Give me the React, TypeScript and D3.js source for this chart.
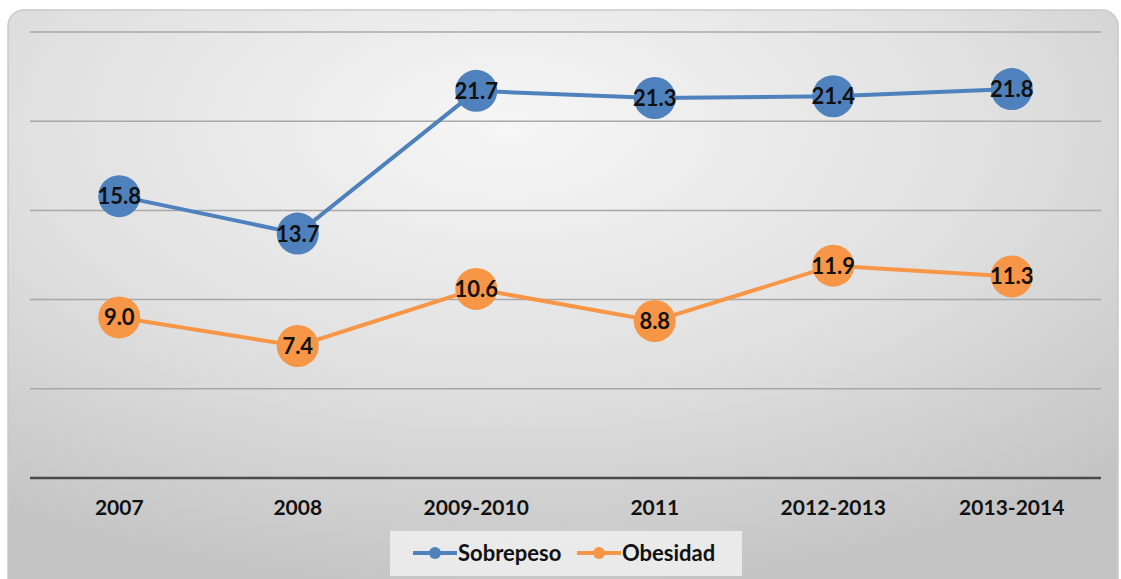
import React, { useRef, useEffect } from 'react';
import { select, scalePoint, scaleLinear, line } from 'd3';

const categories = ['2007', '2008', '2009-2010', '2011', '2012-2013', '2013-2014'];
const sobrepeso = [15.8, 13.7, 21.7, 21.3, 21.4, 21.8];
const obesidad = [9.0, 7.4, 10.6, 8.8, 11.9, 11.3];
const yTicks = [0, 5, 10, 15, 20, 25];

const series = [
    { name: 'Sobrepeso', values: sobrepeso, color: '#4f81bd' },
    { name: 'Obesidad', values: obesidad, color: '#f79646' },
];

const App: React.FC = () => {
    const chartRef = useRef<SVGSVGElement | null>(null);

    useEffect(() => {
        if (!chartRef.current) return;
        document.body.style.margin = '0';

        const svg = select(chartRef.current);
        svg.selectAll('*').remove();

        const width = 1121;
        const height = 579;
        const font = 'Lato, "Open Sans", sans-serif';

        // Background panel with soft radial gradient
        const defs = svg.append('defs');
        const grad = defs.append('radialGradient')
            .attr('id', 'bg')
            .attr('cx', '45%').attr('cy', '20%').attr('r', '80%');
        grad.append('stop').attr('offset', '0%').attr('stop-color', '#f6f6f6');
        grad.append('stop').attr('offset', '55%').attr('stop-color', '#e0e0e0');
        grad.append('stop').attr('offset', '100%').attr('stop-color', '#c4c4c4');

        svg.append('rect').attr('width', width).attr('height', height).attr('fill', '#ffffff');
        svg.append('rect')
            .attr('x', 8).attr('y', 10)
            .attr('width', 1110).attr('height', 585)
            .attr('rx', 16)
            .attr('fill', 'url(#bg)')
            .attr('stroke', '#c9c9c9')
            .attr('stroke-width', 1.5);

        const xScale = scalePoint<string>()
            .domain(categories)
            .range([30, 1101])
            .padding(0.5);

        const yScale = scaleLinear()
            .domain([0, 25])
            .range([478, 32]);

        // Grid lines
        svg.append('g')
            .selectAll('line')
            .data(yTicks.filter(t => t > 0))
            .join('line')
            .attr('x1', 30).attr('x2', 1101)
            .attr('y1', d => yScale(d)).attr('y2', d => yScale(d))
            .attr('stroke', '#a8a8a8')
            .attr('stroke-width', 1.5);

        // Baseline
        svg.append('line')
            .attr('x1', 30).attr('x2', 1101)
            .attr('y1', yScale(0)).attr('y2', yScale(0))
            .attr('stroke', '#4a4a4a')
            .attr('stroke-width', 2.5);

        // Category labels
        svg.append('g')
            .selectAll('text')
            .data(categories)
            .join('text')
            .attr('x', d => xScale(d) as number)
            .attr('y', 515)
            .attr('text-anchor', 'middle')
            .style('font-family', font)
            .style('font-weight', 700)
            .style('font-size', '21px')
            .style('fill', '#111')
            .text(d => d);

        const lineGen = line<number>()
            .x((_, i) => xScale(categories[i]) as number)
            .y(d => yScale(d));

        series.forEach(s => {
            svg.append('path')
                .datum(s.values)
                .attr('fill', 'none')
                .attr('stroke', s.color)
                .attr('stroke-width', 4)
                .attr('d', lineGen);

            const g = svg.append('g');
            g.selectAll('circle')
                .data(s.values)
                .join('circle')
                .attr('cx', (_, i) => xScale(categories[i]) as number)
                .attr('cy', d => yScale(d))
                .attr('r', 21)
                .attr('fill', s.color);

            g.selectAll('text')
                .data(s.values)
                .join('text')
                .attr('x', (_, i) => xScale(categories[i]) as number)
                .attr('y', d => yScale(d) + 8)
                .attr('text-anchor', 'middle')
                .style('font-family', font)
                .style('font-weight', 700)
                .style('font-size', '22px')
                .style('fill', '#111')
                .text(d => d.toFixed(1));
        });

        // Legend
        const legend = svg.append('g');
        legend.append('rect')
            .attr('x', 390).attr('y', 531)
            .attr('width', 352).attr('height', 45)
            .attr('fill', '#f0f0f0')
            .attr('fill-opacity', 0.85);

        const legendItems = [
            { ...series[0], x0: 413 },
            { ...series[1], x0: 577 },
        ];
        legendItems.forEach(item => {
            legend.append('line')
                .attr('x1', item.x0).attr('x2', item.x0 + 44)
                .attr('y1', 553).attr('y2', 553)
                .attr('stroke', item.color)
                .attr('stroke-width', 4);
            legend.append('circle')
                .attr('cx', item.x0 + 22).attr('cy', 553)
                .attr('r', 6)
                .attr('fill', item.color);
            legend.append('text')
                .attr('x', item.x0 + 45)
                .attr('y', 561)
                .style('font-family', font)
                .style('font-weight', 700)
                .style('font-size', '22px')
                .style('fill', '#111')
                .text(item.name);
        });
    }, []);

    return <svg ref={chartRef} width={1121} height={579} style={{ display: 'block' }}></svg>;
};

export default App;
